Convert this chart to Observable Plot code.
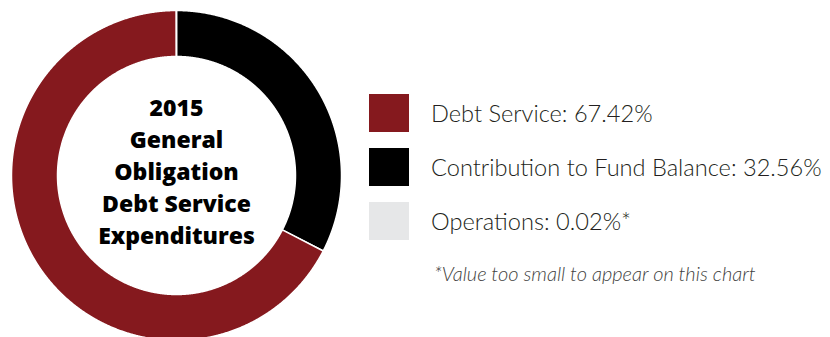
<!DOCTYPE html>
<html>
<head>
<meta charset="utf-8">
<script src="https://cdn.jsdelivr.net/npm/d3@7"></script>
<script src="https://cdn.jsdelivr.net/npm/@observablehq/plot@0.6"></script>
<style>
  html, body { margin: 0; padding: 0; background: #fff; }
  #wrap { position: relative; width: 830px; height: 337px; overflow: hidden; }
  #wrap svg { position: absolute; left: 0; top: 0; }
  .legend { position: absolute; left: 369px; top: 94px; font-family: Lato, "Open Sans", sans-serif; font-weight: 300; color: #231f20; }
  .row { display: flex; align-items: center; height: 38px; margin-bottom: 16px; }
  .sw { width: 40px; height: 38px; flex: none; }
  .lab { margin-left: 22px; font-size: 23.6px; white-space: nowrap; }
  .note { position: absolute; left: 434px; top: 261px; font-family: Lato, sans-serif; font-weight: 300; font-style: italic; font-size: 20px; color: #3f3f41; white-space: nowrap; }
</style>
</head>
<body>
<div id="wrap"></div>
<script>
// Data
const categories = ["Contribution to Fund Balance", "Debt Service", "Operations"];
const values = [32.56, 67.42, 0.02];
const colors = ["#000000", "#85191e", "#e6e7e8"];
const legendOrder = ["Debt Service", "Contribution to Fund Balance", "Operations"];
const legendLabels = ["Debt Service: 67.42%", "Contribution to Fund Balance: 32.56%", "Operations: 0.02%*"];
const centerLabel = "2015\nGeneral\nObligation\nDebt Service\nExpenditures";
const footnote = "*Value too small to appear on this chart";

const innerRatio = 119 / 165;
const total = d3.sum(values);

// Build slice polygons (derived from values)
const rows = [];
let cum = 0;
categories.forEach((cat, i) => {
  const a0 = cum / total * 2 * Math.PI;
  cum += values[i];
  const a1 = cum / total * 2 * Math.PI;
  const n = Math.max(2, Math.ceil((a1 - a0) / (Math.PI / 720)));
  const pts = [];
  for (let k = 0; k <= n; k++) {
    const a = a0 + (a1 - a0) * k / n;
    pts.push({cat, x: Math.sin(a), y: Math.cos(a)});
  }
  for (let k = n; k >= 0; k--) {
    const a = a0 + (a1 - a0) * k / n;
    pts.push({cat, x: innerRatio * Math.sin(a), y: innerRatio * Math.cos(a)});
  }
  pts.push({...pts[0]});
  rows.push(...pts);
});

const chart = Plot.plot({
  width: 830,
  height: 337,
  margin: 0,
  x: {domain: [-1, 1], range: [11, 341], axis: null},
  y: {domain: [-1, 1], range: [340, 10], axis: null},
  color: {domain: categories, range: colors},
  marks: [
    Plot.line(rows, {x: "x", y: "y", z: "cat", fill: "cat", stroke: "white", strokeWidth: 1.5, curve: "linear"}),
    Plot.text([centerLabel], {
      x: () => 0, y: () => 0, text: d => d,
      fontFamily: "'Open Sans', sans-serif", fontWeight: 800, fontSize: 23,
      lineHeight: 32 / 23, fill: "#000", dy: -6, textAnchor: "middle"
    })
  ]
});

const wrap = document.getElementById("wrap");
wrap.appendChild(chart);

const legend = document.createElement("div");
legend.className = "legend";
legendOrder.forEach((cat, i) => {
  const row = document.createElement("div");
  row.className = "row";
  const sw = document.createElement("div");
  sw.className = "sw";
  sw.style.background = colors[categories.indexOf(cat)];
  const lab = document.createElement("div");
  lab.className = "lab";
  lab.textContent = legendLabels[i];
  row.appendChild(sw); row.appendChild(lab);
  legend.appendChild(row);
});
wrap.appendChild(legend);

const note = document.createElement("div");
note.className = "note";
note.textContent = footnote;
wrap.appendChild(note);
</script>
</body>
</html>
